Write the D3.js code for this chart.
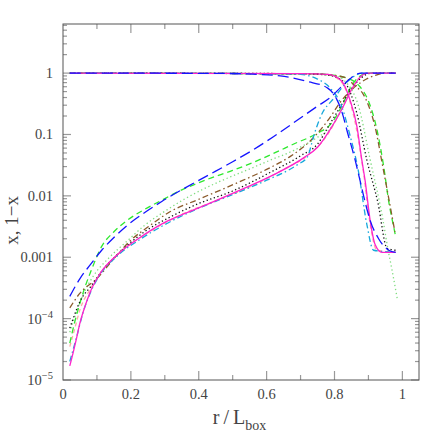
<!DOCTYPE html>
<html>
<head>
<meta charset="utf-8">
<style>
  body { margin: 0; background: #fff; }
  text { font-family: "Liberation Serif", "DejaVu Serif", serif; fill: #444; }
  .frame { fill: none; stroke: #555; stroke-width: 1; }
  .tick { stroke: #999; stroke-width: 1.2; }
  .curve { fill: none; stroke-width: 1.3; }
</style>
</head>
<body>
<svg id="chart" width="443" height="443"></svg>
<script src="https://cdn.jsdelivr.net/npm/d3@7/dist/d3.min.js"></script>
<script>
// rising curves (x) and falling curves (1-x), [r/Lbox, value]
var blueUp = [[0.02,2.3e-4],[0.05,4.5e-4],[0.08,7.5e-4],[0.114,1.3e-3],[0.15,2.1e-3],[0.192,3.4e-3],[0.24,5.3e-3],[0.291,8.1e-3],[0.36,0.0135],[0.43,0.022],[0.5,0.036],[0.56,0.056],[0.62,0.092],[0.69,0.17],[0.75,0.29],[0.79,0.41],[0.82,0.6],[0.845,0.8],[0.865,0.96],[0.88,1],[0.98,1]];
var blueDown = [[0.02,1],[0.45,0.99],[0.56,0.96],[0.64,0.9],[0.72,0.73],[0.78,0.57],[0.806,0.38],[0.82,0.25],[0.84,0.1],[0.86,0.04],[0.875,0.018],[0.89,0.008],[0.905,0.004],[0.93,0.002],[0.96,0.0013],[0.98,0.0012]];

var greenUp = [[0.02,4e-5],[0.035,9e-5],[0.05,1.8e-4],[0.065,3.3e-4],[0.08,5.5e-4],[0.114,1.5e-3],[0.15,2.6e-3],[0.192,4.1e-3],[0.24,6e-3],[0.291,8.5e-3],[0.35,0.0125],[0.43,0.019],[0.5,0.026],[0.56,0.035],[0.62,0.049],[0.68,0.07],[0.75,0.105],[0.79,0.15],[0.82,0.28],[0.845,0.55],[0.87,0.85],[0.9,1],[0.98,1]];
var greenDown = [[0.02,1],[0.75,0.97],[0.83,0.85],[0.875,0.6],[0.9,0.35],[0.925,0.12],[0.945,0.03],[0.96,0.008],[0.975,0.003],[0.98,0.0022]];

var lgreenUp = [[0.02,6e-5],[0.04,1.3e-4],[0.06,2.5e-4],[0.09,5e-4],[0.134,9.6e-4],[0.192,1.9e-3],[0.24,3.3e-3],[0.291,5.2e-3],[0.36,9e-3],[0.46,0.017],[0.54,0.026],[0.61,0.038],[0.68,0.055],[0.75,0.09],[0.79,0.13],[0.82,0.25],[0.845,0.5],[0.87,0.8],[0.89,1],[0.98,1]];
var lgreenDown = [[0.02,1],[0.72,0.97],[0.8,0.9],[0.84,0.65],[0.87,0.3],[0.905,0.039],[0.943,0.004],[0.957,0.0014],[0.97,6e-4],[0.985,2.1e-4]];

var brownUp = [[0.02,1.5e-4],[0.05,2.6e-4],[0.1,4.5e-4],[0.15,9.5e-4],[0.2,1.9e-3],[0.25,3.1e-3],[0.315,5.5e-3],[0.4,8.8e-3],[0.51,0.016],[0.6,0.027],[0.67,0.044],[0.73,0.08],[0.787,0.19],[0.816,0.33],[0.845,0.5],[0.88,0.72],[0.92,0.92],[0.95,1],[0.98,1]];
var brownDown = [[0.02,1],[0.75,0.97],[0.83,0.85],[0.86,0.62],[0.885,0.45],[0.9,0.3],[0.92,0.13],[0.94,0.035],[0.96,0.009],[0.978,0.0026]];

var blackUp = [[0.02,7e-5],[0.03,1e-4],[0.05,1.9e-4],[0.085,3.5e-4],[0.12,6.5e-4],[0.16,1.1e-3],[0.24,2.6e-3],[0.315,4.5e-3],[0.4,7.5e-3],[0.5,0.012],[0.61,0.024],[0.7,0.045],[0.75,0.07],[0.787,0.15],[0.82,0.3],[0.85,0.55],[0.88,0.85],[0.91,1],[0.98,1]];
var blackDown = [[0.02,1],[0.7,0.98],[0.78,0.93],[0.83,0.7],[0.866,0.22],[0.895,0.039],[0.928,0.0077],[0.955,0.0014],[0.98,0.0013]];

var magentaUp = [[0.02,1.7e-5],[0.03,2.8e-5],[0.04,4.8e-5],[0.05,8.5e-5],[0.065,1.6e-4],[0.08,2.7e-4],[0.11,5.5e-4],[0.16,1.1e-3],[0.227,2.1e-3],[0.3,3.7e-3],[0.36,5.2e-3],[0.43,7.5e-3],[0.53,0.013],[0.62,0.022],[0.71,0.042],[0.75,0.062],[0.787,0.12],[0.825,0.28],[0.855,0.6],[0.885,0.95],[0.9,1],[0.98,1]];
var magentaDown = [[0.02,1],[0.7,0.98],[0.78,0.95],[0.82,0.75],[0.846,0.36],[0.866,0.135],[0.88,0.04],[0.89,0.018],[0.905,0.004],[0.92,0.0016],[0.94,0.0012],[0.98,0.0012]];

var skyUp = [[0.02,2e-5],[0.04,5e-5],[0.06,1.3e-4],[0.08,2.6e-4],[0.11,5.3e-4],[0.16,1.05e-3],[0.23,2e-3],[0.3,3.4e-3],[0.4,6.3e-3],[0.5,0.0105],[0.6,0.018],[0.69,0.032],[0.72,0.043],[0.74,0.1],[0.76,0.2],[0.8,0.4],[0.835,0.7],[0.867,0.95],[0.88,1],[0.98,1]];
var skyDown = [[0.02,1],[0.6,0.98],[0.7,0.95],[0.75,0.8],[0.79,0.55],[0.82,0.3],[0.845,0.1],[0.87,0.026],[0.895,0.0035],[0.915,0.0013],[0.98,0.0012]];

var pinkUp = [[0.02,3.5e-5],[0.035,7e-5],[0.05,1.4e-4],[0.08,3e-4],[0.12,6.5e-4],[0.16,1.1e-3],[0.25,2.5e-3],[0.35,5e-3],[0.45,8.3e-3],[0.55,0.014],[0.65,0.027],[0.72,0.045],[0.78,0.1],[0.82,0.25],[0.85,0.55],[0.88,0.9],[0.9,1],[0.98,1]];
var pinkDown = [[0.02,1],[0.7,0.98],[0.78,0.94],[0.82,0.72],[0.845,0.35],[0.865,0.12],[0.885,0.025],[0.905,0.0035],[0.925,0.0013],[0.98,0.0012]];

var xTickLabels = ["0", "0.2", "0.4", "0.6", "0.8", "1"];
var yDecades = [1e-5, 1e-4, 1e-3, 1e-2, 1e-1, 1];

var series = [
  { up: pinkUp,    down: pinkDown,    color: "#ffa8a8", dash: "4,3" },
  { up: lgreenUp,  down: lgreenDown,  color: "#7fdc7f", dash: "1.3,2.7" },
  { up: greenUp,   down: greenDown,   color: "#2ee82e", dash: "6,4" },
  { up: brownUp,   down: brownDown,   color: "#8b5a2b", dash: "6,3,1.5,3" },
  { up: blackUp,   down: blackDown,   color: "#111111", dash: "1.3,2.5" },
  { up: skyUp,     down: skyDown,     color: "#18a8dc", dash: "6,3,1.5,3" },
  { up: magentaUp, down: magentaDown, color: "#ff22cc", dash: null },
  { up: blueUp,    down: blueDown,    color: "#1414ff", dash: "11,5" }
];

var svg = d3.select("#chart");
var margin = { left: 63, right: 24, top: 24, bottom: 63 };
var width = 443 - margin.left - margin.right,
    height = 443 - margin.top - margin.bottom;

var x = d3.scaleLinear().domain([0, 1.049]).range([0, width]);
var y = d3.scaleLog().domain([1e-5, Math.pow(10, 0.8)]).range([height, 0]);

var g = svg.append("g").attr("transform", "translate(" + margin.left + "," + margin.top + ")");

svg.append("defs").append("clipPath").attr("id", "plotclip")
  .append("rect").attr("width", width).attr("height", height);

// ticks, all inward
var xMinor = d3.range(1, 11).map(function(i) { return i / 10; });
xMinor.forEach(function(v, i) {
  var len = (i % 2 === 1) ? 9 : 5;
  g.append("line").attr("class", "tick").attr("x1", x(v)).attr("x2", x(v)).attr("y1", height).attr("y2", height - len);
  g.append("line").attr("class", "tick").attr("x1", x(v)).attr("x2", x(v)).attr("y1", 0).attr("y2", len);
});

var yTicks = [];
for (var e = -5; e <= 0; e++) {
  for (var m = 1; m <= 9; m++) {
    var v = m * Math.pow(10, e);
    if (v <= Math.pow(10, 0.8)) yTicks.push({ v: v, major: m === 1 });
  }
}
yTicks.forEach(function(t) {
  var len = t.major ? 8 : 4;
  g.append("line").attr("class", "tick").attr("x1", 0).attr("x2", len).attr("y1", y(t.v)).attr("y2", y(t.v));
  g.append("line").attr("class", "tick").attr("x1", width).attr("x2", width - len).attr("y1", y(t.v)).attr("y2", y(t.v));
});

g.append("rect").attr("class", "frame").attr("width", width).attr("height", height);

// x tick labels
xTickLabels.forEach(function(s) {
  g.append("text").attr("x", x(+s)).attr("y", height + 19)
    .attr("text-anchor", "middle").attr("font-size", 14.5).text(s);
});

// y tick labels
yDecades.forEach(function(d) {
  var t = g.append("text").attr("x", -10).attr("y", y(d) + 5)
    .attr("text-anchor", "end").attr("font-size", 14.5);
  var p = Math.round(Math.log10(d));
  if (p >= -3) {
    t.text(d3.format("")(+d.toFixed(-p > 0 ? -p : 0)));
  } else {
    t.append("tspan").text("10");
    t.append("tspan").attr("dy", -6).attr("font-size", 10.5).text("\u2212" + (-p));
  }
});

// curves
var line = d3.line()
  .x(function(d) { return x(d[0]); })
  .y(function(d) { return y(d[1]); })
  .curve(d3.curveMonotoneX);

var curves = g.append("g").attr("clip-path", "url(#plotclip)");
series.forEach(function(s) {
  [s.up, s.down].forEach(function(data) {
    curves.append("path").attr("class", "curve")
      .attr("d", line(data))
      .attr("stroke", s.color)
      .attr("stroke-dasharray", s.dash);
  });
});

// axis titles
svg.append("text")
  .attr("transform", "translate(18," + (margin.top + y(0.004)) + ") rotate(-90)")
  .attr("text-anchor", "middle").attr("font-size", 19)
  .text("x, 1\u2212x");

var xt = svg.append("text").attr("x", margin.left + x(0.52)).attr("y", 424)
  .attr("text-anchor", "middle").attr("font-size", 20);
xt.append("tspan").text("r\u2009/\u2009L");
xt.append("tspan").attr("dy", 6).attr("font-size", 14).text("box");
</script>
</body>
</html>
